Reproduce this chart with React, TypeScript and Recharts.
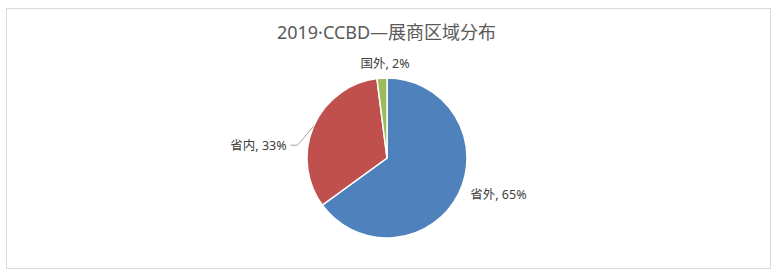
import { PieChart, Pie, Cell } from "recharts"

const regions = ["省外", "省内", "国外"]
const shares = [65, 33, 2]
const colors = ["#4F81BD", "#C0504D", "#9BBB59"]
const title = "2019·CCBD—展商区域分布"

const data = regions.map((name, i) => ({ name, value: shares[i] }))

const RAD = Math.PI / 180
const font = "'Noto Sans', 'Noto Sans CJK SC', sans-serif"

function renderLabel(props: any) {
  const { cx, cy, midAngle, outerRadius, name, percent } = props
  const text = `${name}, ${Math.round(percent * 100)}%`
  const cos = Math.cos(-midAngle * RAD)
  const sin = Math.sin(-midAngle * RAD)
  const ex = cx + outerRadius * cos
  const ey = cy + outerRadius * sin
  const common = { fontSize: 12.5, fill: "#404040", fontFamily: font, dominantBaseline: "central" as const }

  if (cos < -0.5) {
    // left-side label, pulled down with a leader line
    const mx = ex - 16
    const my = ey + 19
    return (
      <g>
        <polyline points={`${ex},${ey} ${mx},${my} ${mx - 7},${my}`} fill="none" stroke="#a6a6a6" strokeWidth={1} />
        <text x={mx - 11} y={my} textAnchor="end" {...common}>{text}</text>
      </g>
    )
  }
  if (sin < -0.9) {
    return (
      <text x={ex + 3} y={ey - 15} textAnchor="middle" {...common}>{text}</text>
    )
  }
  return (
    <text x={ex + 12} y={ey} textAnchor="start" {...common}>{text}</text>
  )
}

export default function App() {
  return (
    <div style={{ position: "absolute", left: 0, top: 0, width: 783, height: 277, background: "#fff" }}>
      <div
        style={{
          position: "absolute",
          left: 6,
          top: 8,
          width: 765,
          height: 261,
          boxSizing: "border-box",
          border: "1px solid #d9d9d9",
        }}
      />
      <div
        style={{
          position: "absolute",
          left: 0,
          top: 19,
          width: 773,
          textAlign: "center",
          fontFamily: font,
          fontSize: 18,
          color: "#595959",
          lineHeight: "26px",
        }}
      >
        {title}
      </div>
      <div style={{ position: "absolute", left: 0, top: 0 }}>
        <PieChart width={783} height={277} margin={{ top: 0, right: 0, bottom: 0, left: 0 }}>
          <Pie
            data={data}
            dataKey="value"
            nameKey="name"
            cx={387}
            cy={158}
            outerRadius={80}
            startAngle={90}
            endAngle={-270}
            stroke="#fff"
            strokeWidth={1.5}
            labelLine={false}
            label={renderLabel}
            isAnimationActive={false}
          >
            {data.map((d, i) => (
              <Cell key={d.name} fill={colors[i]} />
            ))}
          </Pie>
        </PieChart>
      </div>
    </div>
  )
}
